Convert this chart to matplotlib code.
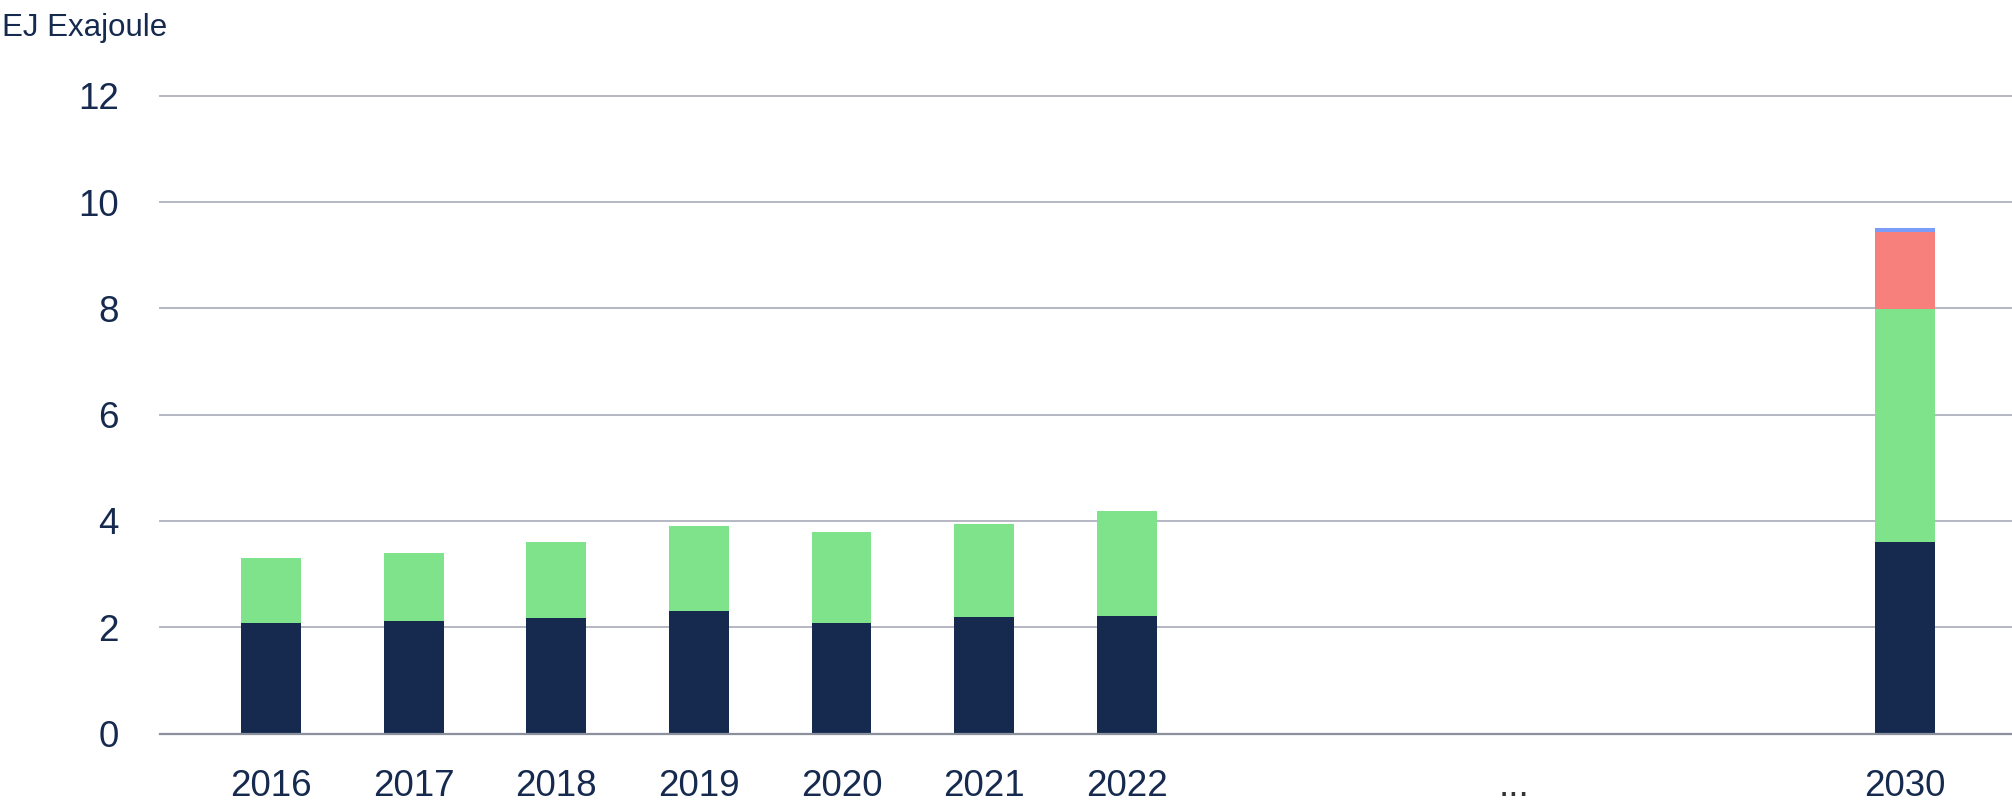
import matplotlib
matplotlib.use("Agg")
import matplotlib.pyplot as plt

plt.rcParams['font.family'] = ['Liberation Sans', 'DejaVu Sans']

# Data
categories = ["2016", "2017", "2018", "2019", "2020", "2021", "2022", "...", "2030"]
series_dark = [2.07, 2.11, 2.18, 2.30, 2.07, 2.19, 2.22, None, 3.61]
series_green = [1.24, 1.28, 1.43, 1.61, 1.73, 1.76, 1.96, None, 4.38]
series_red = [0, 0, 0, 0, 0, 0, 0, None, 1.45]
series_blue = [0, 0, 0, 0, 0, 0, 0, None, 0.08]
y_ticks = [0, 2, 4, 6, 8, 10, 12]
y_title = "EJ Exajoule"

# Layout (category positions on x axis)
x_pos = [0, 1, 2, 3, 4, 5, 6, 8.72, 11.46]

NAVY = "#152a4e"
GREEN = "#7ee38a"
RED = "#f77f7c"
BLUE = "#7b9cf8"

fig = plt.figure(figsize=(20.12, 8.10), dpi=100)
left_px, right_px = 160, 2012
bottom_px, top_px = 733.5, 95.7
W, H = 2012, 810
ax = fig.add_axes([left_px / W, 1 - bottom_px / H, (right_px - left_px) / W, (bottom_px - top_px) / H])

bw = 0.42
for i, cat in enumerate(categories):
    if series_dark[i] is None:
        continue
    b = 0
    for vals, col in ((series_dark, NAVY), (series_green, GREEN), (series_red, RED), (series_blue, BLUE)):
        v = vals[i]
        if v:
            ax.bar(x_pos[i], v, width=bw, bottom=b, color=col, zorder=3, linewidth=0)
            b += v

FS = 26.5
ax.set_xlim(-0.78, 12.21)
ax.set_ylim(0, 12)
ax.set_yticks(y_ticks)
ax.set_yticklabels([str(t) for t in y_ticks], fontsize=FS, color=NAVY)
ax.set_xticks(x_pos)
ax.set_xticklabels(categories, fontsize=FS, color=NAVY)
for lbl in ax.get_xticklabels():
    if lbl.get_text() == "...":
        lbl.set_color("#333333")
ax.tick_params(axis='y', length=0, pad=29.5)
ax.tick_params(axis='x', length=0, pad=25.5)

for t in y_ticks[1:]:
    ax.axhline(t, color="#b4b8c2", linewidth=1.4, zorder=1, clip_on=False)
ax.axhline(0, color="#8a909c", linewidth=1.6, zorder=4, clip_on=False)

for s in ax.spines.values():
    s.set_visible(False)

fig.text(2 / W, 1 - 13 / H, y_title, fontsize=22.5, color=NAVY, ha="left", va="top")

fig.savefig("out.png", dpi=100, facecolor="white")
